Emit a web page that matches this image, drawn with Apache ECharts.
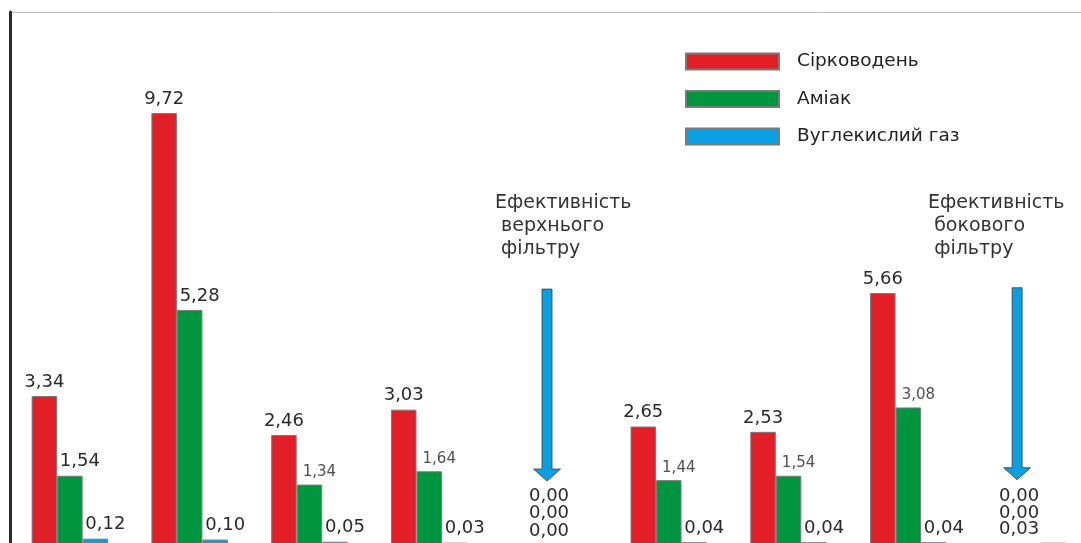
<!DOCTYPE html>
<html><head><meta charset="utf-8">
<script src="https://cdn.jsdelivr.net/npm/echarts@6/dist/echarts.min.js"></script>
<style>html,body{margin:0;padding:0;background:#fff;overflow:hidden}#c{width:1090px;height:545px}</style>
</head><body><div id="c"></div>
<script>
// ---- data ----
const categories = ['1', '2', '3', '4', '5', '6', '7', '8', '9'];
const seriesNames = ['Сірководень', 'Аміак', 'Вуглекислий газ'];
const hydrogenSulfide = [3.34, 9.72, 2.46, 3.03, 0.00, 2.65, 2.53, 5.66, 0.00];
const ammonia         = [1.54, 5.28, 1.34, 1.64, 0.00, 1.44, 1.54, 3.08, 0.00];
const carbonDioxide   = [0.12, 0.10, 0.05, 0.03, 0.00, 0.04, 0.04, 0.04, 0.03];
const filterGroups = [4, 8];
const filterTexts = ['Ефективність\n верхнього\n фільтру', 'Ефективність\n бокового\n фільтру'];
const arrowTopValues = [5.75, 5.78];
const arrowTipValues = [1.42, 1.45];
const textTopValues = [7.95, 7.95];
const smallGreenLabelGroups = [2, 3, 5, 6, 7];

// ---- style ----
const COLORS = ['#e21f26', '#00963f', '#0a9fe0'];
const BW = 25.5;
const FONT = 'DejaVu Sans';
const arrowDx = [-2, -11];
const textDx = [-52, -89];
const stackDy = [-34, -16.5, 1];
const fmt = p => Number(p.value).toFixed(2).replace('.', ',');

function items(values, s) {
  return values.map((v, i) => {
    const it = { value: v };
    const k = filterGroups.indexOf(i);
    if (k >= 0) {
      it.label = { offset: [arrowDx[k] + 2 - (s - 1) * BW, stackDy[s]] };
    } else if (s === 1 && smallGreenLabelGroups.includes(i)) {
      it.label = { fontSize: 15, color: '#505050' };
    }
    if (v === 0) it.itemStyle = { borderWidth: 0 };
    return it;
  });
}

const seriesData = [hydrogenSulfide, ammonia, carbonDioxide];
const chart = echarts.init(document.getElementById('c'), null, { renderer: 'canvas' });
const option = {
  animation: false,
  backgroundColor: '#fff',
  grid: { left: 10, top: 12, right: 2, bottom: 1, containLabel: false },
  legend: {
    orient: 'vertical', left: 685, top: 52, padding: 0,
    icon: 'rect', itemWidth: 93, itemHeight: 16, itemGap: 18.5,
    textStyle: { fontFamily: FONT, fontSize: 18.5, color: '#222', lineHeight: 18, padding: [0, 0, 0, 13] },
    data: seriesNames
  },
  xAxis: {
    type: 'category', data: categories,
    axisLine: { show: false }, axisTick: { show: false }, axisLabel: { show: false }
  },
  yAxis: {
    type: 'value', min: 0, max: 12, interval: 12,
    axisLine: { show: true, lineStyle: { color: '#2b2b2b', width: 3 } },
    axisTick: { show: false }, axisLabel: { show: false },
    splitLine: { show: true, lineStyle: { color: '#bdbdbd', width: 1 } }
  },
  series: seriesData.map((vals, s) => ({
    name: seriesNames[s], type: 'bar', barWidth: BW, barGap: '0%',
    itemStyle: { color: COLORS[s], borderColor: '#7a7a7a', borderWidth: 1 },
    label: {
      show: true, position: 'top', distance: 5, formatter: fmt,
      fontFamily: FONT, fontSize: 18, color: '#2a2a2a',
      offset: s === 0 ? [0, 0] : [10, 0]
    },
    data: items(vals, s)
  }))
};
chart.setOption(option);

const g = [];
filterGroups.forEach((cat, k) => {
  const [cx, yTop] = chart.convertToPixel({ gridIndex: 0 }, [cat, arrowTopValues[k]]);
  const yTip = chart.convertToPixel({ gridIndex: 0 }, [cat, arrowTipValues[k]])[1];
  const ty = chart.convertToPixel({ gridIndex: 0 }, [cat, textTopValues[k]])[1];
  const ax = cx + arrowDx[k];
  const hh = 12, sw = 5, hw = 13.5;
  g.push({
    type: 'polygon', z: 10,
    shape: { points: [[ax - sw, yTop], [ax + sw, yTop], [ax + sw, yTip - hh], [ax + hw, yTip - hh], [ax, yTip], [ax - hw, yTip - hh], [ax - sw, yTip - hh]] },
    style: { fill: COLORS[2], stroke: '#3c3c3c', lineWidth: 0.8 }
  });
  g.push({
    type: 'text', z: 10, x: ax + textDx[k], y: ty,
    style: { text: filterTexts[k], fontFamily: FONT, fontSize: 19, lineHeight: 23, fill: '#333', align: 'left', verticalAlign: 'top' }
  });
});
chart.setOption({ graphic: g });
</script>
</body></html>
